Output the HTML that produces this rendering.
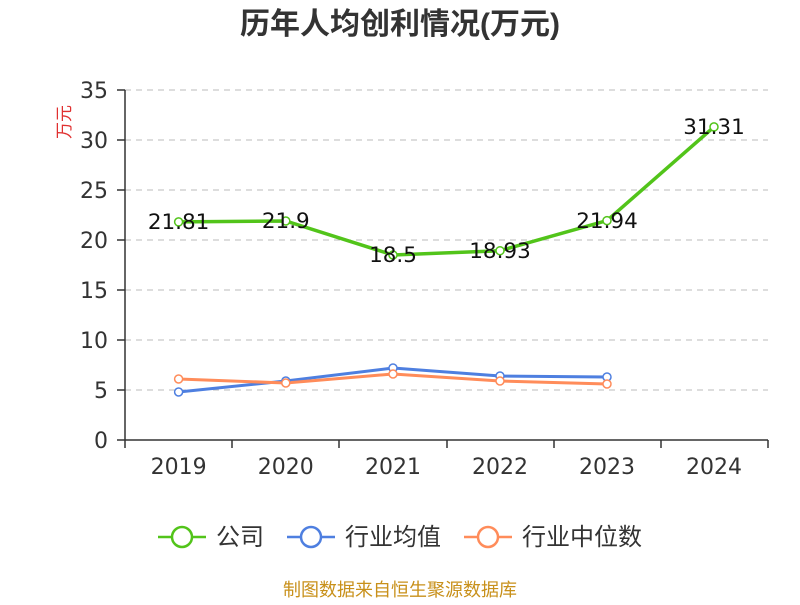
<!DOCTYPE html>
<html><head><meta charset="utf-8"><style>body{margin:0;background:#fff}</style></head><body>
<svg width="800" height="600" xmlns="http://www.w3.org/2000/svg" font-family="DejaVu Sans, Noto Sans CJK SC, sans-serif">
<text x="400" y="34" text-anchor="middle" font-size="30" font-weight="bold" fill="#333" font-family="Liberation Sans, Noto Sans CJK SC, sans-serif">历年人均创利情况(万元)</text>
<text transform="translate(70,122) rotate(-90)" text-anchor="middle" font-size="17" fill="#e03030" font-family="Noto Sans CJK SC, sans-serif">万元</text>
<g stroke="#bbb" stroke-dasharray="6,5" stroke-width="1">
<line x1="125" x2="768" y1="90" y2="90"/><line x1="125" x2="768" y1="140" y2="140"/><line x1="125" x2="768" y1="190" y2="190"/><line x1="125" x2="768" y1="240" y2="240"/><line x1="125" x2="768" y1="290" y2="290"/><line x1="125" x2="768" y1="340" y2="340"/><line x1="125" x2="768" y1="390" y2="390"/>
</g>
<g stroke="#333" stroke-width="1.5">
<line x1="125" x2="125" y1="90" y2="440"/><line x1="125" x2="768" y1="440" y2="440"/>
<line x1="117" x2="125" y1="90" y2="90"/><line x1="117" x2="125" y1="140" y2="140"/><line x1="117" x2="125" y1="190" y2="190"/><line x1="117" x2="125" y1="240" y2="240"/><line x1="117" x2="125" y1="290" y2="290"/><line x1="117" x2="125" y1="340" y2="340"/><line x1="117" x2="125" y1="390" y2="390"/><line x1="117" x2="125" y1="440" y2="440"/>
<line x1="125" x2="125" y1="440" y2="448"/><line x1="232" x2="232" y1="440" y2="448"/><line x1="339" x2="339" y1="440" y2="448"/><line x1="447" x2="447" y1="440" y2="448"/><line x1="554" x2="554" y1="440" y2="448"/><line x1="661" x2="661" y1="440" y2="448"/><line x1="768" x2="768" y1="440" y2="448"/>
</g>
<g font-size="22" fill="#333" text-anchor="end">
<text x="108" y="98">35</text><text x="108" y="148">30</text><text x="108" y="198">25</text><text x="108" y="248">20</text><text x="108" y="298">15</text><text x="108" y="348">10</text><text x="108" y="398">5</text><text x="108" y="448">0</text>
</g>
<g font-size="22" fill="#333" text-anchor="middle">
<text x="178.6" y="474">2019</text><text x="285.8" y="474">2020</text><text x="393" y="474">2021</text><text x="500" y="474">2022</text><text x="607" y="474">2023</text><text x="714" y="474">2024</text>
</g>
<polyline fill="none" stroke="#52c41a" stroke-width="3.5" points="178.6,221.9 285.8,221 393,255 500,250.7 607,220.6 714,126.9"/>
<polyline fill="none" stroke="#4e7fe0" stroke-width="3" points="178.6,392 285.8,381 393,368 500,376 607,377"/>
<polyline fill="none" stroke="#ff8c5a" stroke-width="3" points="178.6,379 285.8,383 393,374 500,381 607,384"/>
<g fill="#fff" stroke="#52c41a" stroke-width="1.5">
<circle cx="178.6" cy="221.9" r="4"/><circle cx="285.8" cy="221" r="4"/><circle cx="393" cy="255" r="4"/><circle cx="500" cy="250.7" r="4"/><circle cx="607" cy="220.6" r="4"/><circle cx="714" cy="126.9" r="4"/></g>
<g fill="#fff" stroke="#4e7fe0" stroke-width="1.5">
<circle cx="178.6" cy="392" r="4"/><circle cx="285.8" cy="381" r="4"/><circle cx="393" cy="368" r="4"/><circle cx="500" cy="376" r="4"/><circle cx="607" cy="377" r="4"/></g>
<g fill="#fff" stroke="#ff8c5a" stroke-width="1.5">
<circle cx="178.6" cy="379" r="4"/><circle cx="285.8" cy="383" r="4"/><circle cx="393" cy="374" r="4"/><circle cx="500" cy="381" r="4"/><circle cx="607" cy="384" r="4"/></g>
<g font-size="21.5" fill="#111" text-anchor="middle">
<text x="178.6" y="229">21.81</text><text x="285.8" y="228">21.9</text><text x="393" y="262">18.5</text><text x="500" y="258">18.93</text><text x="607" y="228">21.94</text><text x="714" y="134">31.31</text>
</g>
<g stroke-width="2.5" fill="#fff">
<line x1="158" x2="206" y1="537" y2="537" stroke="#52c41a"/><circle cx="182" cy="537" r="10" stroke="#52c41a"/>
<line x1="287" x2="335" y1="537" y2="537" stroke="#4e7fe0"/><circle cx="311" cy="537" r="10" stroke="#4e7fe0"/>
<line x1="464" x2="512" y1="537" y2="537" stroke="#ff8c5a"/><circle cx="488" cy="537" r="10" stroke="#ff8c5a"/>
</g>
<g font-size="24" fill="#333" font-family="Noto Sans CJK SC, sans-serif">
<text x="216" y="545">公司</text><text x="345" y="545">行业均值</text><text x="522" y="545">行业中位数</text>
</g>
<text x="400" y="596" text-anchor="middle" font-size="18" fill="#c8901a" font-family="Noto Sans CJK SC, sans-serif">制图数据来自恒生聚源数据库</text>
</svg>
</body></html>
